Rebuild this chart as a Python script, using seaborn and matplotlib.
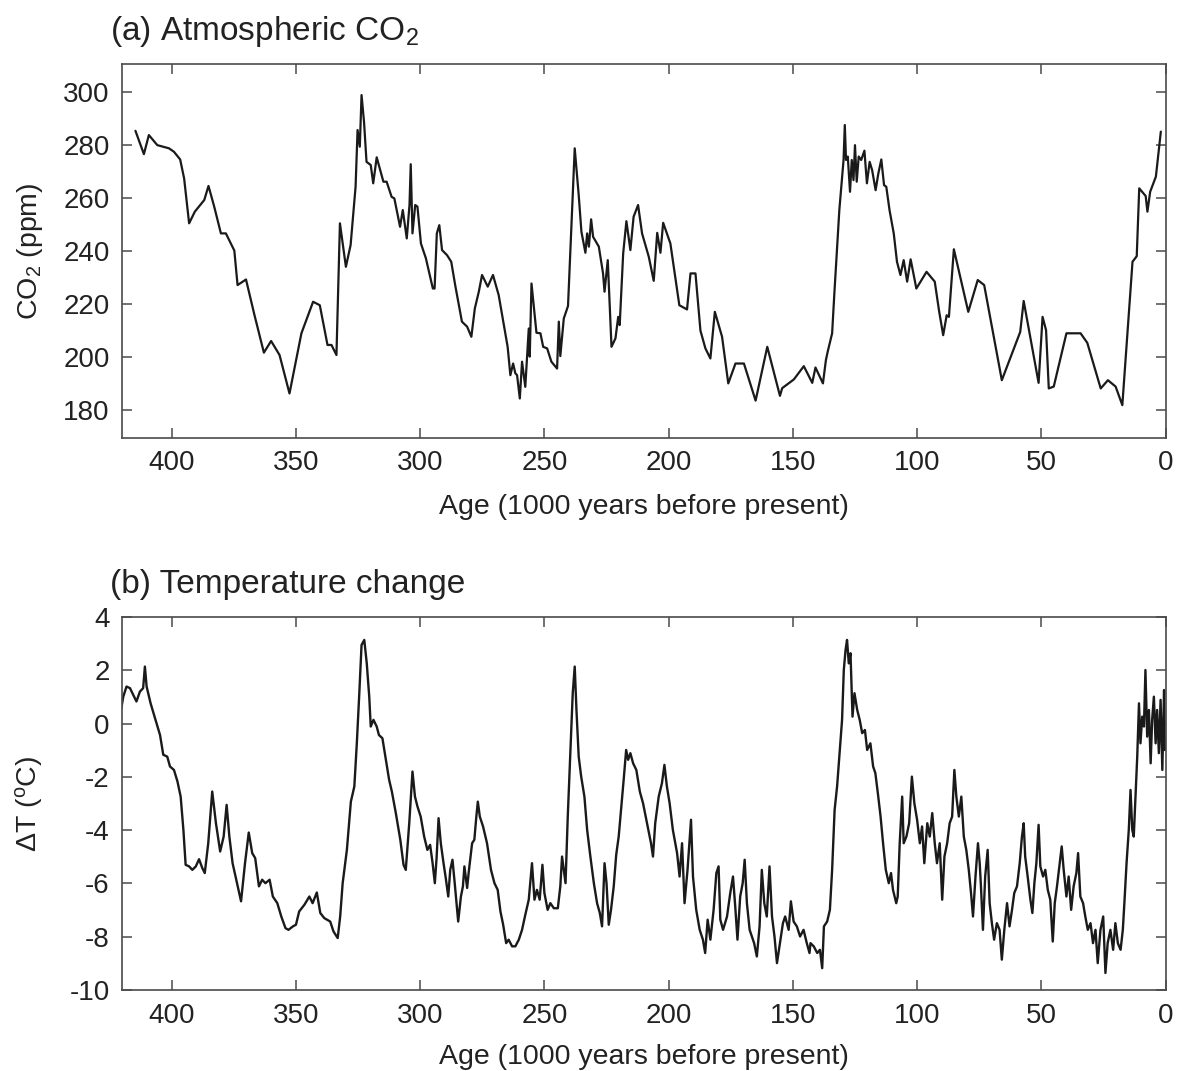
import matplotlib
matplotlib.use("Agg")
import matplotlib.pyplot as plt
import pandas as pd
import seaborn as sns

# ---------------- data ----------------
co2_age = [414.6, 411.2, 409.2, 405.8, 401.1, 399.1, 396.6, 395.0, 393.0, 390.7,
           386.9, 385.2, 382.9, 380.2, 378.2, 374.8, 373.5, 370.1, 366.7, 362.9,
           360.0, 356.6, 352.6, 347.8, 343.1, 340.4, 337.3, 335.7, 333.7, 332.3,
           329.9, 328.0, 326.0, 325.2, 324.3, 323.6, 322.6, 321.6, 319.9, 318.9,
           317.5, 314.8, 313.5, 311.5, 310.4, 308.1, 307.0, 305.4, 304.3, 303.8,
           303.1, 302.0, 301.1, 299.7, 297.7, 294.9, 294.2, 293.3, 292.3, 291.2,
           289.2, 287.5, 285.8, 283.2, 281.1, 279.4, 278.0, 276.4,
           275.1, 272.8, 270.7, 268.4, 266.4, 264.8, 263.7, 262.6, 261.7, 261.0,
           259.9, 259.0, 257.7, 256.3, 255.9, 255.2, 253.2, 251.6, 250.5, 248.9,
           247.2, 244.9, 244.2, 243.6, 242.2, 240.5, 239.1, 237.8, 236.2, 235.1,
           233.5, 232.8, 232.1, 231.2, 230.4, 228.1, 226.4, 225.8, 224.5, 223.0,
           221.4, 220.3, 219.7, 218.3, 217.0, 215.4, 214.1, 212.3, 210.7, 208.0,
           206.0, 204.6, 203.3, 202.2, 199.3, 195.7, 192.6, 191.2, 189.2, 187.2,
           185.2, 183.2, 181.4, 178.5, 176.0, 173.1, 169.7, 165.0, 160.3, 155.2,
           154.3, 149.6, 145.6, 142.2, 140.9, 137.9,
           136.7, 136.0, 134.2, 133.3, 131.3, 129.6, 129.1, 128.6, 127.9, 127.0,
           126.3, 125.6, 125.0, 124.3, 123.5, 122.5, 121.2, 120.2, 119.1, 118.1,
           116.7, 115.6, 114.4, 113.3, 112.4, 111.1, 109.4, 108.1, 106.7, 105.4,
           104.0, 102.6, 100.3, 96.2, 92.9, 91.1, 89.5, 88.1, 87.2, 85.2,
           79.4, 75.6, 73.0, 65.9, 58.5, 57.1, 51.1, 49.5, 48.1, 47.0,
           45.0, 39.9, 34.2, 31.5, 26.1, 23.2, 20.1, 17.4, 13.3, 11.6,
           10.6, 8.0, 7.3, 6.2, 3.9, 1.9]
co2_ppm = [285.5, 276.7, 283.9, 280.1, 278.9, 277.6, 274.7, 267.5, 250.6, 255.0,
           259.4, 264.7, 256.9, 246.8, 246.8, 240.3, 227.3, 229.4, 216.0, 201.8,
           206.2, 200.9, 186.4, 209.1, 221.0, 219.7, 204.7, 204.7, 200.9, 250.6,
           234.2, 242.4, 264.4, 285.8, 279.5, 299.0, 288.9, 273.8, 272.6, 265.7,
           275.5, 266.3, 266.3, 260.6, 260.0, 249.3, 255.6, 244.9, 257.5, 272.9,
           246.8, 257.5, 256.9, 243.0, 237.4, 226.0, 226.0, 246.8, 249.9, 240.5,
           238.6, 236.1, 226.7, 213.5, 211.6, 207.8, 218.5, 224.8,
           231.1, 226.7, 231.1, 223.5, 212.8, 204.0, 193.3, 197.7, 194.0, 193.3,
           184.5, 198.4, 188.9, 210.9, 200.3, 227.9, 209.3, 209.1, 204.0, 203.4,
           198.4, 195.8, 213.5, 200.5, 214.7, 219.4, 250.6, 278.9, 261.3, 247.4,
           239.5, 246.8, 241.8, 252.1, 245.5, 241.8, 231.7, 224.8, 236.7, 204.0,
           207.2, 215.3, 212.2, 239.2, 251.4, 240.5, 253.1, 257.5, 246.8, 238.0,
           228.9, 247.0, 239.5, 250.8, 243.0, 219.7, 218.1, 231.7, 231.7, 210.1,
           203.4, 199.6, 217.2, 207.8, 190.2, 197.7, 197.7, 183.7, 204.0, 185.5,
           188.4, 191.7, 196.7, 190.4, 196.2, 190.2,
           199.0, 202.1, 209.1, 224.2, 255.6, 274.5, 287.7, 274.5, 275.8, 262.5,
           274.5, 266.9, 280.1, 266.3, 275.8, 274.5, 278.0, 265.7, 273.8, 270.7,
           263.1, 269.4, 274.7, 265.0, 264.4, 255.6, 246.8, 236.1, 231.1, 236.7,
           228.6, 237.0, 226.0, 232.3, 228.6, 217.2, 208.4, 215.9, 215.3, 240.8,
           217.2, 229.2, 227.3, 191.4, 209.6, 221.3, 190.4, 215.3, 210.3, 188.3,
           189.0, 209.1, 209.1, 205.5, 188.3, 191.4, 189.0, 182.0, 236.1, 238.2,
           263.8, 260.9, 255.0, 262.5, 268.2, 285.2]

temp_age = [420.4, 419.5, 418.2, 416.8, 415.5, 414.2, 412.8, 411.5, 410.8, 410.1,
            408.5, 406.5, 404.7, 403.4, 401.8, 400.7, 399.1, 397.7, 396.4, 395.3,
            394.4, 393.0, 391.7, 390.3, 389.0, 387.7, 386.7, 385.3, 383.7, 382.2,
            380.5, 379.1, 377.9, 376.8, 375.5, 373.7, 372.1, 370.5, 369.0, 367.6,
            366.4, 364.9, 363.6, 362.3, 360.6, 359.3, 357.5, 355.9, 354.2, 353.0,
            351.2,
            350.0, 348.7, 346.6, 344.6, 343.3, 341.6, 340.2, 338.6, 336.2, 334.9,
            333.2, 332.2, 331.2, 329.5, 327.9, 326.5, 325.5, 324.5, 323.6, 322.5,
            321.5, 320.5, 319.9, 318.8, 317.5, 316.6, 315.2, 313.9, 312.5, 311.4,
            309.8, 308.0, 306.7, 305.8, 304.4, 303.1, 302.1, 301.1, 299.8, 298.4,
            297.1, 296.0, 295.0, 294.1, 293.4, 292.6, 291.7, 290.6, 289.7, 288.7,
            287.9, 287.0, 286.1, 284.7, 283.6,
            282.8, 282.2, 281.1, 280.5, 279.1, 278.2, 277.4, 276.8, 276.0, 274.7,
            273.1, 271.5, 270.1, 268.8, 267.7, 266.6, 265.4, 264.4, 263.0, 261.7,
            260.3, 259.0, 257.7, 256.3, 255.0, 254.0, 253.0, 251.9, 250.8, 250.0,
            248.7, 247.6, 246.2, 244.6, 243.6, 242.9, 241.5, 240.6, 239.5, 238.6,
            237.8, 237.1, 236.2, 235.2, 233.9, 232.8, 231.5, 230.1, 228.8, 227.7,
            226.8, 225.8, 225.0, 224.1, 223.2, 222.1, 221.1, 220.1, 219.1, 218.1,
            217.1, 216.3, 215.4, 214.3, 213.0, 211.6,
            210.3, 208.7, 207.1, 206.3, 205.4, 204.0, 202.7, 201.7, 200.7, 199.6,
            198.3, 196.6, 195.6, 194.6, 193.6, 192.4, 191.0, 190.2, 188.9, 187.5,
            186.2, 185.3, 184.3, 183.2, 181.9, 180.8, 179.9, 179.2, 178.1, 176.5,
            175.2, 174.1, 173.2, 172.3, 171.2, 170.2, 169.4, 168.5, 167.4, 166.5,
            165.6, 164.5, 163.4, 162.5, 161.5, 160.5, 159.4, 158.4, 157.4, 156.4,
            155.4, 154.0, 153.1, 151.7, 150.8, 149.7, 148.4, 147.1, 145.7, 144.4,
            143.3,
            142.9, 141.6, 140.2, 139.1, 138.2, 137.5, 136.2, 135.1, 134.2, 133.2,
            132.2, 131.1, 130.2, 129.5, 128.8, 128.2, 127.5, 126.8, 126.0, 125.2,
            124.1, 123.1, 122.1, 121.0, 120.1, 118.8, 117.7, 116.8, 115.8, 114.7,
            113.7, 112.6, 111.4, 110.5, 109.7, 108.4, 107.8, 107.0, 106.0, 105.4,
            104.3, 103.2, 102.1, 101.1, 100.0, 98.9, 98.0, 97.1, 95.9, 94.9,
            93.9, 92.9, 92.0, 90.9, 89.9, 89.0, 87.9, 86.9, 85.9, 85.0,
            84.2, 83.2, 82.2, 81.2, 80.2, 79.2, 78.3, 77.5, 76.5, 75.5,
            74.8,
            74.3, 73.5, 72.6, 71.6, 70.8, 69.9, 69.0, 67.9, 66.8, 65.9,
            64.9, 63.8, 62.8, 61.8, 60.9, 59.8, 58.7, 57.8, 57.1, 56.5,
            55.5, 54.4, 53.6, 52.8, 52.0, 51.1, 50.4, 49.3, 48.4, 47.4,
            46.4, 45.4, 44.6, 43.7, 42.6, 41.8, 41.0, 39.9, 39.0, 38.0,
            37.0, 35.9, 35.2, 34.3, 33.2, 32.3, 31.3, 30.2, 29.2, 28.2,
            27.3, 26.2, 25.1, 24.2, 23.3, 22.2, 21.1, 20.2, 19.2, 18.1,
            17.2, 16.5, 15.7, 14.8, 14.1, 13.4, 12.8, 12.1, 11.4, 10.7,
            10.1, 9.4, 8.7, 8.1, 7.4, 6.7, 6.0, 5.4, 4.7, 4.0,
            3.4, 2.7, 2.0, 1.3, 0.6, 0.3]
temp_dT = [0.51, 1.01, 1.39, 1.33, 1.08, 0.83, 1.20, 1.33, 2.14, 1.39,
           0.76, 0.14, -0.43, -1.17, -1.24, -1.61, -1.74, -2.17, -2.74, -3.99,
           -5.30, -5.36, -5.49, -5.36, -5.09, -5.42, -5.61, -4.49, -2.55, -3.74,
           -4.80, -4.24, -3.05, -4.24, -5.24, -5.99, -6.67, -5.24, -4.09, -4.86,
           -5.05, -6.11, -5.86, -5.99, -5.86, -6.49, -6.74, -7.24, -7.68, -7.74,
           -7.61,
           -7.55, -7.05, -6.80, -6.49, -6.74, -6.34, -7.11, -7.30, -7.43, -7.80,
           -8.05, -7.24, -5.99, -4.74, -2.93, -2.36, -0.74, 1.14, 2.95, 3.14,
           2.26, 1.01, -0.11, 0.14, -0.11, -0.43, -0.55, -1.30, -2.11, -2.55,
           -3.36, -4.36, -5.30, -5.49, -3.74, -1.80, -2.74, -3.11, -3.49, -4.24,
           -4.74, -4.55, -5.24, -5.99, -5.05, -3.55, -4.49, -5.24, -5.80, -6.49,
           -5.49, -5.11, -5.99, -7.43, -6.49,
           -6.11, -5.36, -6.17, -5.61, -4.49, -4.36, -3.49, -2.93, -3.49, -3.86,
           -4.49, -5.49, -5.99, -6.24, -7.05, -7.55, -8.24, -8.11, -8.36, -8.36,
           -8.11, -7.74, -7.18, -6.61, -5.24, -6.61, -6.24, -6.61, -5.30, -6.36,
           -6.99, -6.74, -6.93, -6.93, -6.11, -4.99, -5.99, -3.49, -0.99, 1.14,
           2.14, 0.51, -1.24, -1.99, -2.74, -3.99, -4.99, -5.99, -6.74, -7.11,
           -7.61, -5.24, -5.99, -7.55, -6.99, -6.11, -4.92, -4.24, -3.18, -2.11,
           -0.99, -1.36, -1.11, -1.49, -1.74, -2.55,
           -2.99, -3.74, -4.49, -4.99, -3.74, -2.74, -2.24, -1.55, -2.36, -2.99,
           -3.99, -4.86, -5.74, -4.49, -6.74, -5.49, -3.61, -5.74, -6.99, -7.74,
           -8.11, -8.61, -7.36, -8.11, -6.99, -5.61, -5.36, -7.36, -7.74, -7.24,
           -6.36, -5.74, -6.86, -8.11, -6.49, -5.99, -5.11, -6.74, -7.74, -7.99,
           -8.24, -8.74, -7.61, -5.49, -6.74, -7.24, -5.36, -7.24, -7.99, -8.99,
           -8.36, -7.49, -7.24, -7.74, -6.67, -7.43, -7.61, -7.99, -7.74, -8.24,
           -8.61,
           -8.24, -8.36, -8.61, -8.49, -9.18, -7.61, -7.43, -6.99, -5.49, -3.24,
           -2.36, -0.99, 0.14, 2.01, 2.76, 3.14, 2.26, 2.64, 0.26, 1.14,
           0.51, 0.14, -0.36, -0.24, -0.99, -0.74, -1.61, -1.86, -2.61, -3.49,
           -4.49, -5.49, -5.99, -5.61, -6.24, -6.74, -6.49, -4.49, -2.74, -4.49,
           -4.24, -3.74, -1.99, -2.99, -3.61, -4.49, -3.86, -5.24, -3.74, -4.24,
           -3.36, -4.49, -5.24, -4.49, -6.61, -4.99, -4.49, -3.74, -3.49, -1.74,
           -2.74, -3.49, -2.74, -4.24, -4.74, -5.49, -6.36, -7.24, -5.74, -4.49,
           -5.24,
           -6.11, -7.74, -5.74, -4.74, -6.74, -7.49, -8.11, -7.49, -7.74, -8.86,
           -7.74, -6.74, -7.61, -6.99, -6.36, -6.11, -5.24, -4.24, -3.74, -4.99,
           -5.74, -6.61, -7.11, -5.99, -5.24, -3.80, -5.36, -5.74, -5.49, -6.24,
           -6.61, -8.18, -6.74, -6.11, -5.24, -4.61, -5.49, -6.49, -5.74, -6.99,
           -6.11, -5.61, -4.86, -6.49, -6.74, -7.24, -7.74, -7.49, -8.24, -7.74,
           -8.99, -7.74, -7.24, -9.36, -8.24, -7.74, -8.49, -7.49, -8.24, -8.49,
           -7.74, -6.61, -5.24, -3.99, -2.49, -3.99, -4.24, -2.74, -1.24, 0.76,
           -0.74, 0.26, -0.11, 2.01, -0.49, 0.51, -1.49, 0.14, 1.01, -0.74,
           0.51, -1.11, 0.89, -1.74, 1.26, -0.99]

x_ticks = [400, 350, 300, 250, 200, 150, 100, 50, 0]
co2_ticks = [180, 200, 220, 240, 260, 280, 300]
temp_ticks = [-10, -8, -6, -4, -2, 0, 2, 4]

co2_df = pd.DataFrame({"age": co2_age, "co2": co2_ppm})
temp_df = pd.DataFrame({"age": temp_age, "dT": temp_dT})

# ---------------- style ----------------
sns.set_theme(style="ticks")
plt.rcParams['font.family'] = ['Liberation Sans', 'DejaVu Sans']
plt.rcParams['mathtext.default'] = 'regular'
plt.rcParams['axes.unicode_minus'] = False

LINE = "#1a1a1a"
SPINE = "#4a4a4a"
TXT = "#222222"

fig = plt.figure(figsize=(11.79, 10.71), dpi=100)
ax1 = fig.add_axes([0.1035, 0.5913, 0.8851, 0.3489])
ax2 = fig.add_axes([0.1035, 0.0756, 0.8851, 0.3483])

sns.lineplot(data=co2_df, x="age", y="co2", ax=ax1, color=LINE, lw=1.6,
             estimator=None, sort=False)
sns.lineplot(data=temp_df, x="age", y="dT", ax=ax2, color=LINE, lw=1.7,
             estimator=None, sort=False)

ax1.set_ylim(169.7, 310.7)
ax2.set_ylim(-10, 4)
ax1.set_yticks(co2_ticks)
ax2.set_yticks(temp_ticks)

for ax in (ax1, ax2):
    ax.set_xlim(420, 0)
    ax.set_xticks(x_ticks)
    for s in ax.spines.values():
        s.set_visible(True)
        s.set_color(SPINE)
        s.set_linewidth(1.2)
    ax.tick_params(direction="in", length=7, width=1.1, color=SPINE,
                   top=True, right=True, labelsize=20, labelcolor=TXT, pad=9)
    ax.set_xlabel("Age (1000 years before present)", fontsize=20.5, color=TXT)

ax1.set_ylabel("CO$_2$ (ppm)", fontsize=20.5, color=TXT)
ax2.set_ylabel("ΔT ($^o$C)", fontsize=20.5, color=TXT)
ax1.yaxis.set_label_coords(-0.074, 0.5)
ax2.yaxis.set_label_coords(-0.074, 0.5)
ax1.xaxis.set_label_coords(0.5, -0.15)
ax2.xaxis.set_label_coords(0.5, -0.145)

fig.text(110 / 1179, 1 - 40 / 1071, "(a) Atmospheric CO$_2$", fontsize=24,
         color=TXT, ha="left", va="baseline")
fig.text(110 / 1179, 1 - 593 / 1071, "(b) Temperature change", fontsize=24,
         color=TXT, ha="left", va="baseline")

fig.savefig("out.png", dpi=100)
